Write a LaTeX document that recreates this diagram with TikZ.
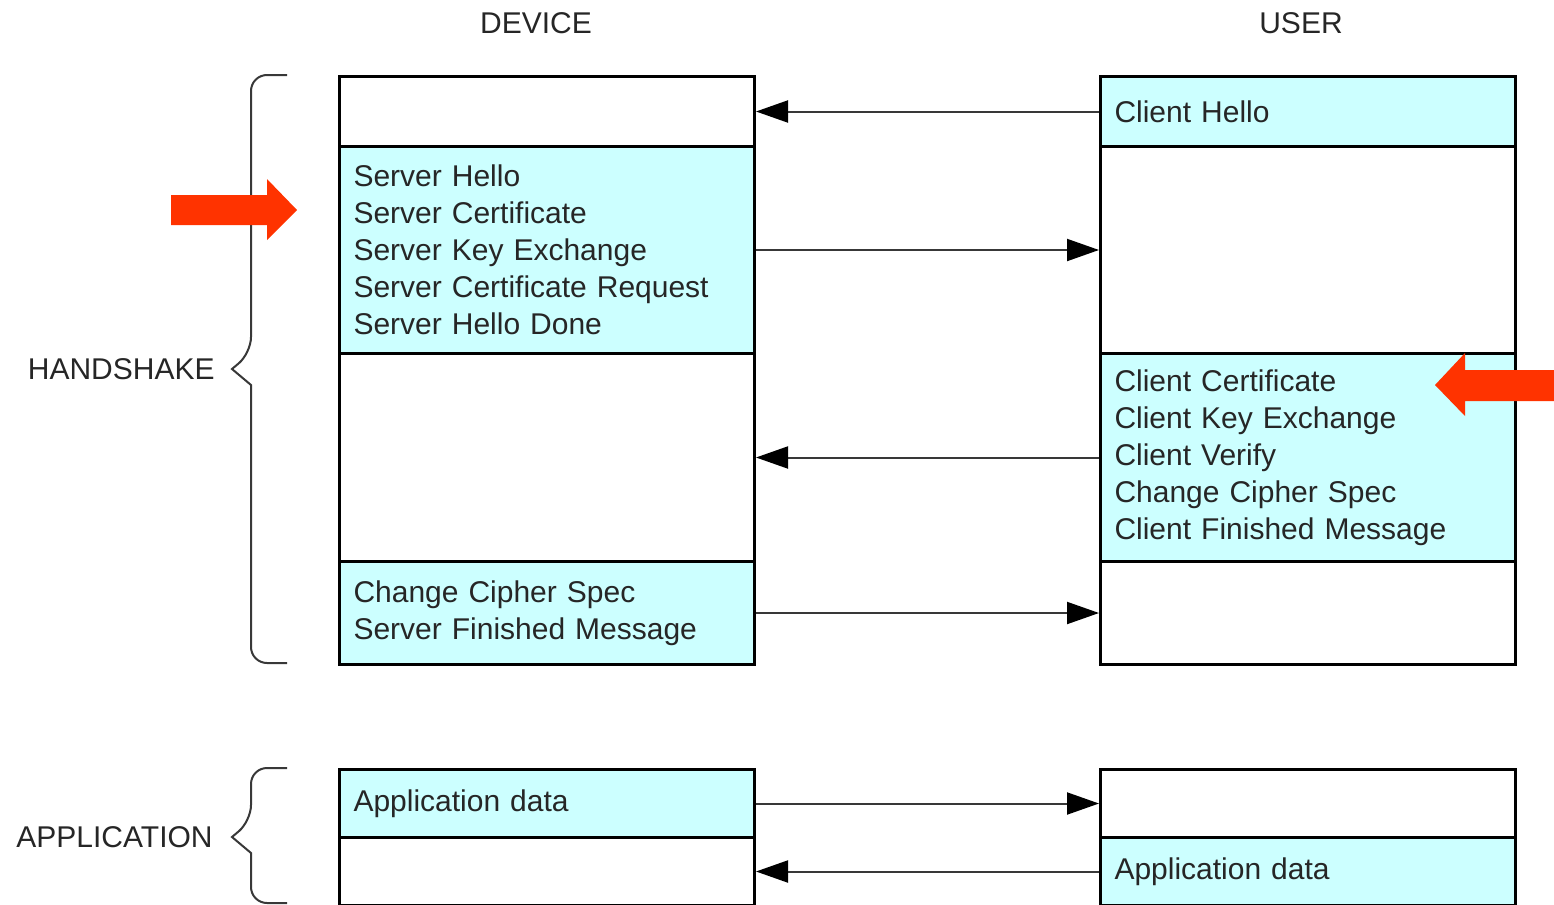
\documentclass[tikz,border=0pt]{standalone}
\usepackage{fontspec}
\setmainfont{Liberation Sans}
\usetikzlibrary{arrows.meta}
\definecolor{msgcyan}{HTML}{CCFFFF}
\definecolor{hotarrow}{HTML}{FF3300}
\definecolor{linegray}{HTML}{383838}
\newcommand{\slot}[5]{ \node[slotbox, #1, minimum height=#4, anchor=north west] (#2) at (#3) {#5};}
\newcommand{\bracket}[3]{ \draw[bracketline] (287,#1) -- (251,#1) -- (251,#3-16) [sharp corners] -- (232,#3) -- (251,#3+16) [rounded corners=8pt] -- (251,#2) -- (287,#2);}

\begin{document}
\begin{tikzpicture}[x=0.5pt,y=-0.5pt,
        slotbox/.style={draw=black, line width=1.5pt, rectangle, minimum width=207.5pt,
            text width=193.5pt, inner xsep=7pt, inner ysep=0pt, align=left,
            font=\fontsize{15}{18.5}\selectfont, text=black!85},
        filled/.style={fill=msgcyan},
        msg/.style={draw=linegray, line width=1pt, -{Triangle[length=16pt,width=11pt,color=black]}},
        side/.style={font=\fontsize{15}{18}\selectfont, text=black!85, inner sep=0pt},
        bracketline/.style={draw=linegray, line width=1pt, rounded corners=8pt},
        hot/.style={fill=hotarrow}]
        \useasboundingbox (0,0) rectangle (1554,905);

        % column titles
        \node[side] (dev) at (536,23) {DEVICE};
        \node[side] (usr) at (1301,23) {USER};

        % device column
        \slot{}{d1}{338,75}{35pt}{}
        \slot{filled}{d2}{338,145}{103.5pt}{Server Hello\\Server Certificate\\Server Key Exchange\\Server Certificate Request\\Server Hello Done}
        \slot{}{d3}{338,352}{104pt}{}
        \slot{filled}{d4}{338,560}{51.5pt}{Change Cipher Spec\\Server Finished Message}
        \slot{filled}{d5}{338,768}{34pt}{Application data}
        \slot{}{d6}{338,836}{34pt}{}

        % user column
        \slot{filled}{u1}{1099,75}{35pt}{Client Hello}
        \slot{}{u2}{1099,145}{103.5pt}{}
        \slot{filled}{u3}{1099,352}{104pt}{Client Certificate\\Client Key Exchange\\Client Verify\\Change Cipher Spec\\Client Finished Message}
        \slot{}{u4}{1099,560}{51.5pt}{}
        \slot{}{u5}{1099,768}{34pt}{}
        \slot{filled}{u6}{1099,836}{34pt}{Application data}

        % messages
        \draw[msg] (u1) -- (d1);
        \draw[msg] (d2) -- (u2);
        \draw[msg] (u3) -- (d3);
        \draw[msg] (d4) -- (u4);
        \draw[msg] (d5) -- (u5);
        \draw[msg] (u6) -- (d6);

        % phases
        \node[side, anchor=east] (hs) at (215,369) {HANDSHAKE};
        \node[side, anchor=east] (app) at (213,837) {APPLICATION};
        \bracket{75}{663}{369}
        \bracket{768}{903}{837}

        % highlight arrows
        \fill[hot] (171,195) -- (267,195) -- (267,179) -- (297,210) -- (267,240) -- (267,225) -- (171,225) -- cycle;
        \fill[hot] (1554,370) -- (1465,370) -- (1465,353) -- (1435,385) -- (1465,416) -- (1465,401) -- (1554,401) -- cycle;
    \end{tikzpicture}
\end{document}
